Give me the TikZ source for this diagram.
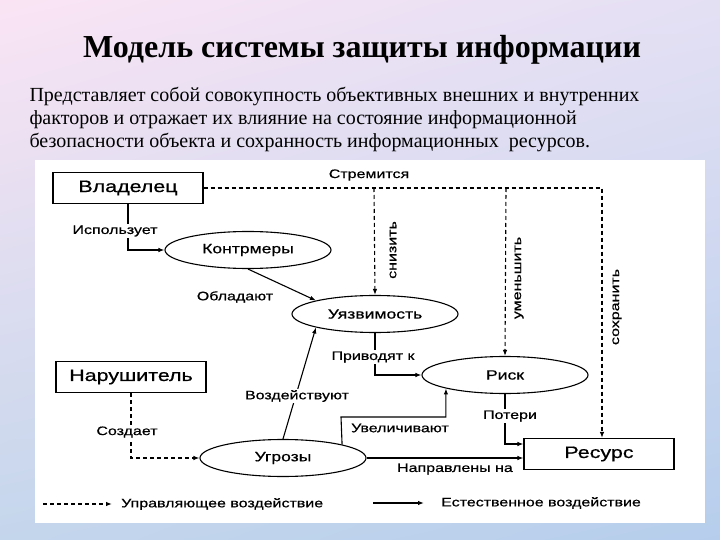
\documentclass[tikz,border=0pt]{standalone}
\usepackage{fontspec}
\setmainfont{Liberation Serif}
\newfontfamily\diagfont[FakeStretch=1.3,FakeBold=0.6]{Liberation Sans}
\usetikzlibrary{shapes.geometric,shadings,arrows.meta,positioning}

\definecolor{bgpink}{RGB}{250,228,244}
\definecolor{bglilac}{RGB}{228,224,244}
\definecolor{bgblue}{RGB}{196,214,236}
\definecolor{bgsky}{RGB}{182,206,236}

\tikzset{
    box/.style={draw,line width=1.1pt,minimum width=150pt,minimum height=31pt,font=\diagfont\fontsize{16.5}{16.5}\selectfont},
    oval/.style={draw,line width=1.1pt,ellipse,minimum width=166pt,minimum height=37pt,inner sep=0pt,font=\diagfont\fontsize{13.5}{13.5}\selectfont},
    lbl/.style={fill=white,inner sep=1pt,font=\diagfont\fontsize{12.3}{12.3}\selectfont},
    natural/.style={line width=1.1pt,-{Latex[length=6pt,width=4.5pt]}},
    control/.style={line width=1.1pt,dash pattern=on 4pt off 3pt,-{Latex[length=6pt,width=4.5pt]}}
}

\begin{document}
\begin{tikzpicture}[x=1pt,y=-1pt]
    \shade[upper left=bgpink,upper right=bglilac,lower left=bgblue,lower right=bgsky] (0,0) rectangle (720,540);
    \useasboundingbox (0,0) rectangle (720,540);
    \fill[white] (35,160) rectangle (705,523);

    \node (title) at (362,50) {\bfseries\fontsize{32}{32}\selectfont Модель системы защиты информации};
    \node[anchor=west,align=left,font=\fontsize{20}{23}\selectfont] (intro) at (26,120)
        {Представляет собой совокупность объективных внешних и внутренних\\
         факторов и отражает их влияние на состояние информационной\\
         безопасности объекта и сохранность информационных\ \ ресурсов.};

    \node[box] (owner) at (128,188) {Владелец};
    \node[box] (intruder) at (131,377) {Нарушитель};
    \node[box] (resource) at (599,454) {Ресурс};
    \node[oval] (counter) at (248,250) {Контрмеры};
    \node[oval] (vuln) at (375,314) {Уязвимость};
    \node[oval] (risk) at (505,375) {Риск};
    \node[oval] (threat) at (283,458) {Угрозы};

    \coordinate (lower) at (374,188);
    \coordinate (reduce) at (506,188);
    \coordinate (keep) at (602,188);
    \coordinate (bend) at (341,417);

    \draw[control] (owner.east) -- (keep) -- (keep |- resource.north);
    \draw[control] (lower) -- (vuln.north);
    \draw[control] (reduce) -- (risk.north);
    \node[lbl] (strive) at (369,175) {Стремится};
    \node[lbl,rotate=90] (lowerlbl) at (393,250) {снизить};
    \node[lbl,rotate=90] (reducelbl) at (519,278) {уменьшить};
    \node[lbl,rotate=90] (keeplbl) at (617,307) {сохранить};

    \draw[natural] (owner.south) |- (counter.west);
    \node[lbl] (uses) at (115,231) {Использует};
    \draw[natural] (counter.south) -- (vuln.north west);
    \node[lbl] (has) at (235,297) {Обладают};

    \draw[control] (intruder.south) |- (threat.west);
    \node[lbl] (creates) at (127,432) {Создает};
    \draw[natural] (threat.north) -- (vuln.south west);
    \node[lbl] (affect) at (297,396) {Воздействуют};
    \draw[natural] (vuln.south) |- (risk.west);
    \node[lbl] (leads) at (373,357) {Приводят к};
    \draw[natural] (threat.north east) -- (bend) -| (risk.south west);
    \node[lbl] (raise) at (400,428) {Увеличивают};
    \draw[natural] (risk.south) |- ([yshift=10pt]resource.west);
    \node[lbl] (loss) at (510,416) {Потери};
    \draw[natural] (threat.east) -- (resource.west |- threat.east);
    \node[lbl] (aimed) at (455,469) {Направлены на};

    \coordinate (ctla) at (43,504);
    \coordinate (ctlb) at (112,504);
    \coordinate (nata) at (373,503);
    \coordinate (natb) at (424,503);
    \draw[control] (ctla) -- (ctlb);
    \node[lbl,anchor=west] (ctlkey) at (120,504) {Управляющее воздействие};
    \draw[natural] (nata) -- (natb);
    \node[lbl,anchor=west] (natkey) at (440,503) {Естественное воздействие};
\end{tikzpicture}
\end{document}
